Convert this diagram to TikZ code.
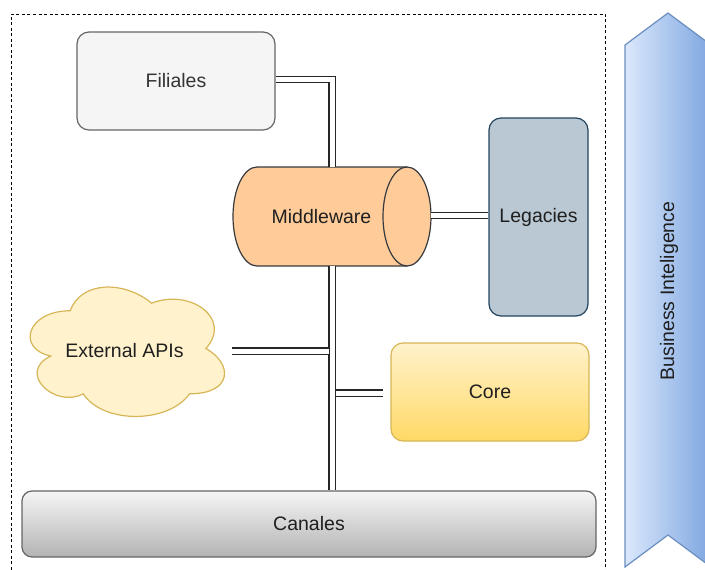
\documentclass[tikz,border=0pt]{standalone}
\usepackage{fontspec}
\setmainfont{Liberation Sans}
\begin{document}
\begin{tikzpicture}[x=1pt,y=-1pt,
  lbl/.style={font=\fontsize{19.5}{23}\selectfont, text=black!88},
  box/.style={lbl, rounded corners=12pt, line width=1.2pt, inner sep=0pt},
  link/.style={draw=black!85, line width=1.3pt, double=white, double distance=5pt},
]
\useasboundingbox (0,0) rectangle (705,570);
\clip (0,0) rectangle (705,570);

% outer dashed frame
\draw[line width=1pt, dash pattern=on 3pt off 2.5pt] (11,575) -- (11,14) -- (605,14) -- (605,575);

% Business Intelligence band
\shade[left color={rgb,255:red,218;green,232;blue,252}, right color={rgb,255:red,126;green,166;blue,224}]
  (625,45) -- (668,13) -- (711,45) -- (711,567) -- (668,535) -- (625,567) -- cycle;
\draw[draw={rgb,255:red,108;green,142;blue,191}, line width=1.2pt, line join=miter]
  (625,45) -- (668,13) -- (711,45) -- (711,567) -- (668,535) -- (625,567) -- cycle;
\node[lbl, rotate=90] (bi) at (669,291) {Business Inteligence};

% boxes
\node[box, draw={rgb,255:red,102;green,102;blue,102}, fill={rgb,255:red,245;green,245;blue,245},
      text={rgb,255:red,51;green,51;blue,51}, minimum width=198pt, minimum height=98pt]
  (fil) at (176,81) {Filiales};
\node[box, draw={rgb,255:red,35;green,68;blue,93}, fill={rgb,255:red,186;green,200;blue,211},
      minimum width=99pt, minimum height=198pt]
  (leg) at (538.5,217) {Legacies};
\node[box, draw={rgb,255:red,214;green,182;blue,86},
      top color={rgb,255:red,255;green,242;blue,204}, bottom color={rgb,255:red,255;green,217;blue,102},
      minimum width=198pt, minimum height=98pt]
  (core) at (490,392) {Core};
\node[box, rounded corners=10pt, draw={rgb,255:red,102;green,102;blue,102},
      top color={rgb,255:red,245;green,245;blue,245}, bottom color={rgb,255:red,179;green,179;blue,179},
      minimum width=574pt, minimum height=66pt]
  (can) at (309,524) {Canales};

% Middleware cylinder
\filldraw[fill={rgb,255:red,255;green,204;blue,153}, draw={rgb,255:red,54;green,57;blue,61}, line width=1.2pt]
  (257,167) -- (407,167) arc (-90:90:24 and 49.5) -- (257,266) arc (90:270:24 and 49.5) -- cycle;
\draw[draw={rgb,255:red,54;green,57;blue,61}, line width=1.2pt]
  (407,167) arc (270:90:24 and 49.5);
\node[lbl, inner sep=0pt, minimum width=178pt, minimum height=99pt] (mw) at (321.5,216.5) {Middleware};
\coordinate (mwN) at (332,167);
\coordinate (mwS) at (332,266);
\coordinate (mwE) at (431,215.5);

% External APIs cloud
\filldraw[fill={rgb,255:red,255;green,242;blue,204}, draw={rgb,255:red,214;green,182;blue,86}, line width=1.2pt]
  (70.25,310.75) .. controls (26.85,310.75) and (16,348.5) .. (50.72,356.05)
  .. controls (16,372.66) and (55.06,408.9) .. (83.27,393.8)
  .. controls (102.8,424) and (167.9,424) .. (189.6,393.8)
  .. controls (233,393.8) and (233,363.6) .. (205.875,348.5)
  .. controls (233,318.3) and (189.6,288.1) .. (151.625,303.2)
  .. controls (124.5,280.55) and (81.1,280.55) .. (70.25,310.75) -- cycle;
\node[lbl, inner sep=0pt, minimum width=215pt] (api) at (124.5,351) {External APIs};

% junctions on the trunk
\coordinate (jA) at (329,351);
\coordinate (jC) at (335.5,393);

% connectors
\draw[link] ([yshift=1.5pt]fil.east) -| (mwN);
\draw[link] (mwS) -- (mwS |- can.north);
\draw[link] (mwE) -- (mwE -| leg.west);
\draw[link] (api.east) -- (jA);
\draw[link] (jC) -- ([xshift=-7pt]core.west |- jC);
\end{tikzpicture}
\end{document}
